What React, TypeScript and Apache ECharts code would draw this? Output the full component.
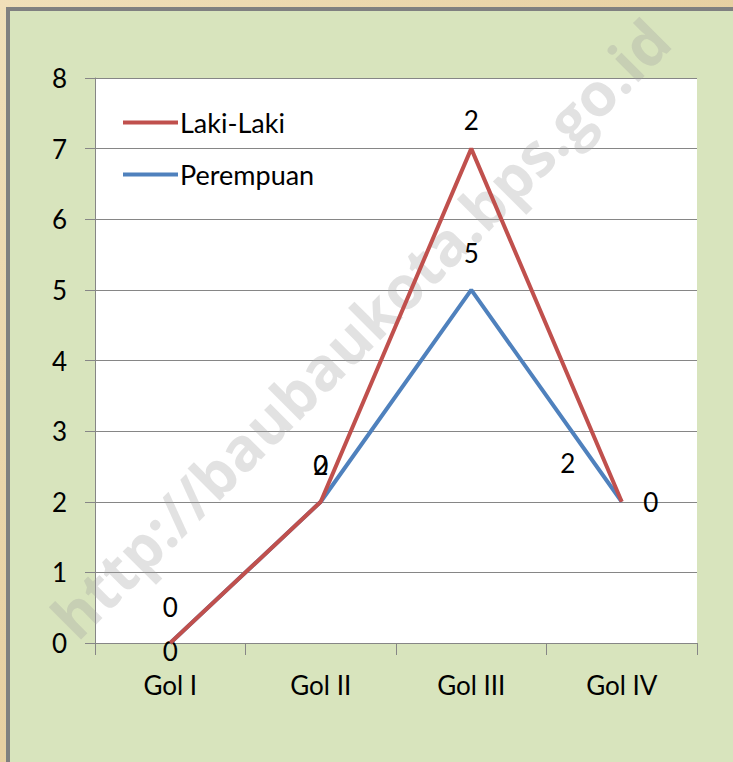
import React, { useEffect, useRef } from "react";
import * as echarts from "echarts";

const categories = ["Gol I", "Gol II", "Gol III", "Gol IV"];
const lakiValues = [0, 2, 7, 2];
const perempuanValues = [0, 2, 5, 2];
const lakiLabels = ["0", "0", "2", "0"];
const perempuanLabels = ["0", "2", "5", "2"];
const lakiLabelOffsets = [[0, -36], [0, -37], [0, -29], [29, 0]];
const perempuanLabelOffsets = [[0, 8], [0, -37], [0, -37], [-54, -39]];

const FONT = "Lato";

function buildData(values: number[], labels: string[], offsets: number[][]) {
  return values.map((v, i) => ({
    value: v,
    label: {
      show: true,
      position: "inside",
      offset: offsets[i],
      formatter: labels[i],
      fontSize: 26,
      fontFamily: FONT,
      color: "#000",
      lineHeight: 22,
    },
  }));
}

export default function App() {
  const ref = useRef<HTMLDivElement>(null);
  useEffect(() => {
    if (!ref.current) return;
    const chart = echarts.init(ref.current, undefined, { renderer: "svg" });
    chart.setOption({
      animation: false,
      backgroundColor: "transparent",
      textStyle: { fontFamily: FONT },
      graphic: [
        {
          type: "text",
          x: 360,
          y: 328,
          rotation: Math.PI / 4,
          z: 1,
          silent: true,
          style: {
            text: "http://baubaukota.bps.go.id",
            fontSize: 60,
            fontWeight: "bold",
            fontFamily: "Open Sans",
            fill: "rgba(160,160,160,0.3)",
            align: "center",
            verticalAlign: "middle",
          },
        },
      ],
      legend: {
        orient: "vertical",
        left: 118,
        top: 104,
        itemWidth: 55,
        itemHeight: 4,
        itemGap: 25,
        icon: "rect",
        textStyle: { fontSize: 27, fontFamily: FONT, color: "#000", padding: [0, 0, 0, -3] },
        data: ["Laki-Laki", "Perempuan"],
      },
      grid: {
        left: 95,
        top: 78,
        width: 602,
        height: 565,
        show: true,
        backgroundColor: "#ffffff",
        borderWidth: 0,
        containLabel: false,
      },
      xAxis: {
        type: "category",
        data: categories,
        boundaryGap: true,
        axisLine: { show: true, lineStyle: { color: "#868686", width: 1 } },
        axisTick: { show: true, length: 12, lineStyle: { color: "#868686" } },
        axisLabel: { fontSize: 26, fontFamily: FONT, color: "#000", margin: 29 },
      },
      yAxis: {
        type: "value",
        min: 0,
        max: 8,
        interval: 1,
        axisLine: { show: true, lineStyle: { color: "#868686", width: 1 } },
        axisTick: { show: true, length: 10, lineStyle: { color: "#868686" } },
        splitLine: { show: true, lineStyle: { color: "#868686", width: 1 } },
        axisLabel: { fontSize: 26, fontFamily: FONT, color: "#000", margin: 28 },
      },
      series: [
        {
          name: "Perempuan",
          type: "line",
          data: buildData(perempuanValues, perempuanLabels, perempuanLabelOffsets),
          symbol: "circle",
          symbolSize: 0,
          showSymbol: true,
          z: 3,
          lineStyle: { color: "#4f81bd", width: 4 },
          itemStyle: { color: "#4f81bd" },
        },
        {
          name: "Laki-Laki",
          type: "line",
          data: buildData(lakiValues, lakiLabels, lakiLabelOffsets),
          symbol: "circle",
          symbolSize: 0,
          showSymbol: true,
          z: 4,
          lineStyle: { color: "#c0504d", width: 4 },
          itemStyle: { color: "#c0504d" },
        },
      ],
    });
    return () => chart.dispose();
  }, []);

  return (
    <div
      style={{
        position: "fixed",
        left: 0,
        top: 0,
        width: 733,
        height: 762,
        overflow: "hidden",
        background: "linear-gradient(135deg, #f0dfb9 0%, #e7d0a2 50%, #efddb5 100%)",
      }}
    >
      <div
        style={{
          position: "absolute",
          left: 6,
          top: 7,
          width: 760,
          height: 780,
          background: "#d8e4bd",
          borderLeft: "4px solid #808080",
          borderTop: "4px solid #808080",
          boxSizing: "border-box",
        }}
      />
      <div ref={ref} style={{ position: "absolute", left: 0, top: 0, width: 733, height: 762 }} />
    </div>
  );
}
